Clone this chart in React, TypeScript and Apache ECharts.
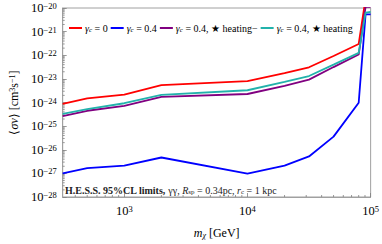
import React, { useEffect, useRef } from 'react';
import * as echarts from 'echarts';

const FONT = 'Liberation Serif';

// Dark-matter mass (GeV)
const masses = [316, 500, 1000, 2000, 10000, 20000, 31600, 50000, 80000, 91000, 100000];
// <σv> limits (cm^3 s^-1)
const sigmaGammaC0 = [8.7e-25, 1.48e-24, 2.14e-24, 5.4e-24, 8.1e-24, 1.74e-23, 3.1e-23, 9.3e-23, 3.0e-22, 2.5e-20, 2.5e-20];
const sigmaGammaC04 = [1.0e-27, 1.66e-27, 2.14e-27, 4.7e-27, 9.8e-28, 2.14e-27, 5.2e-27, 3.6e-26, 9.8e-25, 5.4e-21, 5.4e-21];
const sigmaHeatingMinus = [2.63e-25, 4.47e-25, 7.2e-25, 1.74e-24, 2.29e-24, 5.1e-24, 9.3e-24, 3.16e-23, 1.07e-22, 1.12e-20, 1.12e-20];
const sigmaHeating = [3.3e-25, 5.2e-25, 9.3e-25, 2.1e-24, 3.3e-24, 7.4e-24, 1.32e-23, 4.0e-23, 1.26e-22, 6.3e-21, 6.8e-21];

const seriesNames = ['γc = 0', 'γc = 0.4', 'γc = 0.4, ★ heating−', 'γc = 0.4, ★ heating'];
const legendLabels = [
  '{g|γ}{s|c}{t| = 0}',
  '{g|γ}{s|c}{t| = 0.4}',
  '{g|γ}{s|c}{t| = 0.4, ★ heating−}',
  '{g|γ}{s|c}{t| = 0.4, ★ heating}',
];
const seriesColors = ['#ff0000', '#0000ff', '#800080', '#22b2ab'];
const seriesValues = [sigmaGammaC0, sigmaGammaC04, sigmaHeatingMinus, sigmaHeating];

const xMin = 316.2;
const xMax = 1e5;
const yMin = 1e-28;
const yMax = 1e-20;
// ECharts' log scale rounds tiny values to 0, so the y axis works in units of 1e-28 cm^3/s
const Y_UNIT_EXP = -28;
const Y_UNIT = 1e-28;

const xMinorTicks: number[] = [];
for (let e = 2; e <= 4; e++) {
  for (let k = 2; k <= 9; k++) {
    const v = k * Math.pow(10, e);
    if (v > xMin && v < xMax) xMinorTicks.push(v);
  }
}
const yMinorTicks: number[] = [];
for (let e = 0; e < 8; e++) {
  for (let k = 2; k <= 9; k++) yMinorTicks.push(k * Math.pow(10, e));
}

const FRAME = '#a0a0a0';
const TICK = '#808080';

function powLabel(v: number, offset: number) {
  const e = Math.log10(v);
  const r = Math.round(e);
  if (!isFinite(e) || Math.abs(e - r) > 1e-6) return '';
  const ex = r + offset;
  const exp = ex < 0 ? '−' + -ex : String(ex);
  return `{b|10}{e|${exp}}`;
}

const powRich = {
  b: { fontFamily: FONT, fontSize: 12.5, color: '#000', verticalAlign: 'bottom', lineHeight: 13 },
  e: { fontFamily: FONT, fontSize: 8.5, color: '#000', verticalAlign: 'top', lineHeight: 9 },
};

export default function App() {
  const ref = useRef<HTMLDivElement>(null);
  useEffect(() => {
    if (!ref.current) return;
    const chart = echarts.init(ref.current, undefined, { renderer: 'svg' });
    const lineSeries = seriesNames.map((name, i) => ({
      name,
      type: 'line',
      data: masses.map((m, j) => [m, seriesValues[i][j] / Y_UNIT]),
      symbol: 'none',
      lineStyle: { color: seriesColors[i], width: 1.8 },
      itemStyle: { color: seriesColors[i] },
      z: 3 + i,
    }));
    const tickStyle = { stroke: TICK, lineWidth: 0.8 };
    chart.setOption({
      animation: false,
      grid: { left: 55, right: 11, top: 8, bottom: 40, show: true, borderColor: FRAME, borderWidth: 1 },
      title: {
        left: 60,
        top: 180,
        text: '{b|H.E.S.S. 95%CL limits,} γγ, {i|R}{s|sp} = 0.34pc, {i|r}{s|c} = 1 kpc',
        textStyle: {
          fontFamily: FONT,
          fontSize: 10,
          fontWeight: 'normal',
          color: '#222',
          rich: {
            b: { fontFamily: FONT, fontSize: 10, fontWeight: 'bold', color: '#222' },
            i: { fontFamily: FONT, fontSize: 10, fontStyle: 'italic', color: '#222' },
            s: { fontFamily: FONT, fontSize: 7, color: '#222', verticalAlign: 'bottom', padding: [3, 0, 0, 0] },
          },
        },
      },
      legend: {
        left: 64,
        top: 18,
        icon: 'rect',
        itemWidth: 13,
        itemHeight: 2,
        itemGap: 3,
        data: seriesNames,
        formatter: (name: string) => legendLabels[seriesNames.indexOf(name)],
        textStyle: {
          fontFamily: FONT,
          fontSize: 10,
          color: '#000',
          padding: [0, 0, 0, -2],
          rich: {
            g: { fontFamily: FONT, fontSize: 10, fontStyle: 'italic', color: '#000' },
            s: { fontFamily: FONT, fontSize: 7, fontStyle: 'italic', color: '#000', verticalAlign: 'bottom', padding: [3, 0, 0, 0] },
            t: { fontFamily: FONT, fontSize: 10, color: '#000' },
          },
        },
      },
      xAxis: {
        type: 'log',
        logBase: 10,
        min: xMin,
        max: xMax,
        name: '{i|m}{s|χ} [GeV]',
        nameLocation: 'middle',
        nameGap: 30,
        nameTextStyle: {
          fontFamily: FONT,
          fontSize: 12,
          color: '#000',
          rich: {
            i: { fontFamily: FONT, fontSize: 12, fontStyle: 'italic', color: '#000' },
            s: { fontFamily: FONT, fontSize: 8, fontStyle: 'italic', color: '#000', verticalAlign: 'bottom', padding: [4, 0, 0, 0] },
          },
        },
        axisLine: { show: true, lineStyle: { color: FRAME, width: 1 } },
        axisTick: { show: true, inside: true, length: 4, lineStyle: { color: TICK, width: 0.8 } },
        splitLine: { show: false },
        axisLabel: { formatter: (v: number) => powLabel(v, 0), rich: powRich, margin: 7, showMinLabel: false },
      },
      yAxis: {
        type: 'log',
        logBase: 10,
        min: yMin / Y_UNIT,
        max: yMax / Y_UNIT,
        splitNumber: 8,
        name: '⟨{i|σv}⟩ [cm{e|3}s{e|−1}]',
        nameLocation: 'middle',
        nameGap: 42,
        nameTextStyle: {
          fontFamily: FONT,
          fontSize: 12,
          color: '#000',
          rich: {
            i: { fontFamily: FONT, fontSize: 12, fontStyle: 'italic', color: '#000' },
            e: { fontFamily: FONT, fontSize: 8, color: '#000', verticalAlign: 'top', padding: [0, 0, 4, 0] },
          },
        },
        axisLine: { show: true, lineStyle: { color: FRAME, width: 1 } },
        axisTick: { show: true, inside: true, length: 4, lineStyle: { color: TICK, width: 0.8 } },
        splitLine: { show: false },
        axisLabel: { formatter: (v: number) => powLabel(v, Y_UNIT_EXP), rich: powRich, margin: 6 },
      },
      series: [
        ...lineSeries,
        {
          type: 'custom',
          silent: true,
          data: xMinorTicks.map((v) => [v, yMin / Y_UNIT]),
          renderItem: (_p: any, api: any) => {
            const p = api.coord([api.value(0), api.value(1)]);
            return { type: 'line', shape: { x1: p[0], y1: p[1], x2: p[0], y2: p[1] - 2 }, style: tickStyle };
          },
          z: 2,
        },
        {
          type: 'custom',
          silent: true,
          data: yMinorTicks.map((v) => [xMin, v]),
          renderItem: (_p: any, api: any) => {
            const p = api.coord([api.value(0), api.value(1)]);
            return { type: 'line', shape: { x1: p[0], y1: p[1], x2: p[0] + 2, y2: p[1] }, style: tickStyle };
          },
          z: 2,
        },
      ],
    });
    return () => chart.dispose();
  }, []);
  return <div ref={ref} style={{ width: 382, height: 244, position: 'absolute', left: 0, top: 0 }} />;
}
